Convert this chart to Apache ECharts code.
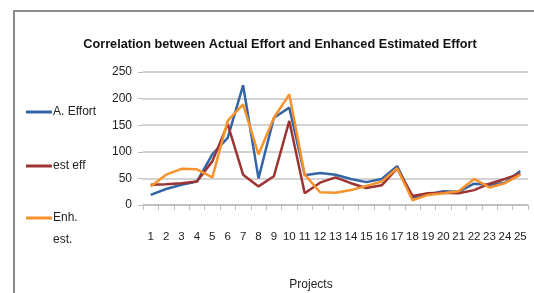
<!DOCTYPE html>
<html>
<head>
<meta charset="utf-8">
<script src="https://cdn.jsdelivr.net/npm/echarts@6/dist/echarts.min.js"></script>
<style>
html,body{margin:0;padding:0;background:#fff;}
#c{width:534px;height:293px;}
</style>
</head>
<body>
<div id="c"></div>
<script>
const categories = ['1','2','3','4','5','6','7','8','9','10','11','12','13','14','15','16','17','18','19','20','21','22','23','24','25'];
const actualEffort = [19,30,38,44,95,126,225,50,164,183,56,60,57,49,43,49,73,14,20,26,25,40,38,42,64];
const estEff = [38,39,41,44,82,152,57,35,54,158,22,42,52,41,32,37,69,17,22,23,22,28,40,49,59];
const enhEst = [35,57,68,67,52,158,189,95,164,208,57,24,23,28,36,44,69,9,19,22,26,49,33,41,57];
const yTicks = [0,50,100,150,200,250];

const FONT = '"Liberation Sans",sans-serif';
const chart = echarts.init(document.getElementById('c'));
const legendBase = {
  orient: 'vertical', left: 26, itemWidth: 26, itemHeight: 3, icon: 'rect',
  textStyle: { fontFamily: FONT, fontSize: 12, color: '#222', lineHeight: 22, padding: [0, 0, 0, -4] },
  itemGap: 0, selectedMode: false, padding: 0
};
chart.setOption({
  animation: false,
  backgroundColor: '#fff',
  title: {
    text: 'Correlation between Actual Effort and Enhanced Estimated Effort',
    left: 275, top: 33, textAlign: 'center',
    textStyle: { fontFamily: FONT, fontSize: 12.7, fontWeight: 'bold', color: '#111' }
  },
  graphic: [{
    type: 'rect', shape: { x: 14, y: 11, width: 540, height: 300 },
    style: { fill: 'none', stroke: '#8c8c8c', lineWidth: 2 }, silent: true, z: -1
  }],
  legend: [
    Object.assign({}, legendBase, { top: 101, data: ['A. Effort'] }),
    Object.assign({}, legendBase, { top: 155, data: ['est eff'] }),
    Object.assign({}, legendBase, { top: 185, data: ['Enh. est.'], formatter: () => '\nEnh.\nest.' })
  ],
  grid: { left: 143, right: 6, top: 72, bottom: 88 },
  xAxis: {
    type: 'category', data: categories, boundaryGap: true,
    name: 'Projects', nameLocation: 'middle', nameGap: 74,
    nameTextStyle: { fontFamily: FONT, fontSize: 12, color: '#222', padding: [0, 49, 0, 0] },
    axisLine: { lineStyle: { color: '#bdbdbd', width: 1.5 } },
    axisTick: { show: true, interval: 0, length: 5, lineStyle: { color: '#bdbdbd' } },
    axisLabel: { interval: 0, margin: 26, fontFamily: FONT, fontSize: 11.5, color: '#222' }
  },
  yAxis: {
    type: 'value', min: yTicks[0], max: yTicks[yTicks.length - 1], interval: 50,
    axisLine: { show: false },
    axisTick: { show: true, length: 5, lineStyle: { color: '#bdbdbd' } },
    axisLabel: { margin: 11, fontFamily: FONT, fontSize: 12, color: '#222' },
    splitLine: { lineStyle: { color: '#c4c4c4', width: 1.5 } }
  },
  series: [
    { name: 'A. Effort', type: 'line', data: actualEffort, symbol: 'none', color: '#3465a4', lineStyle: { width: 2.5 } },
    { name: 'est eff', type: 'line', data: estEff, symbol: 'none', color: '#9c3434', lineStyle: { width: 2.5 } },
    { name: 'Enh. est.', type: 'line', data: enhEst, symbol: 'none', color: '#f7922c', lineStyle: { width: 2.5 } }
  ]
});
</script>
</body>
</html>
